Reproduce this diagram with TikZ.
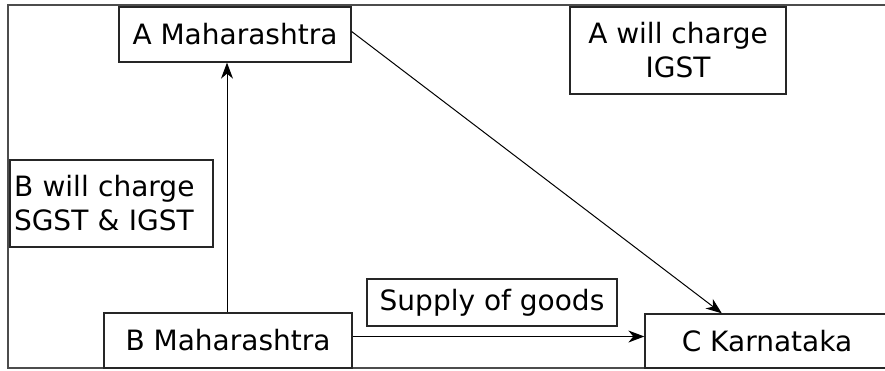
\documentclass[tikz,border=0pt]{standalone}
\usepackage{fontspec}
\setmainfont{DejaVu Sans}
\usetikzlibrary{arrows.meta,calc}
\begin{document}
\begin{tikzpicture}[x=1pt,y=-1pt,
  box/.style={draw=black!85,line width=1.3pt,inner sep=0pt,font=\fontsize{28}{34}\selectfont},
  conn/.style={line width=1pt,-{Stealth[length=16pt,width=12pt,inset=5pt]}},
  frame/.style={draw=black!70,line width=1.6pt}]
\useasboundingbox (0,0) rectangle (885,370);
\fill[white] (0,0) rectangle (885,370);
\draw[frame] (886,5) -- (8,5) -- (8,368) -- (886,368);
\node[box,minimum width=232pt,minimum height=55pt] (A) at (235,34.5) {A Maharashtra};
\node[box,minimum width=216pt,minimum height=87pt,align=center] (AI) at (678,50.5) {A will charge\\IGST};
\node[box,minimum width=203pt,minimum height=87pt,align=left,text width=195pt] (BI) at (111.5,203.5) {B will charge\\SGST \& IGST};
\node[box,minimum width=248pt,minimum height=55pt] (B) at (228,340.5) {B Maharashtra};
\node[box,minimum width=250pt,minimum height=47pt] (S) at (492,302.5) {Supply of goods};
\node[box,minimum width=244pt,minimum height=54pt] (C) at (767,341) {C Karnataka};
\coordinate (Ct) at ($(C.north west)!0.316!(C.north east)$);
\draw[conn] ([xshift=-1pt]B.north) -- ([xshift=-1pt]B.north |- A.south);
\draw[conn] ([yshift=3pt]A.east) -- (Ct);
\draw[conn] ([yshift=4pt]B.east) -- ([yshift=4pt]B.east -| C.west);
\end{tikzpicture}
\end{document}
